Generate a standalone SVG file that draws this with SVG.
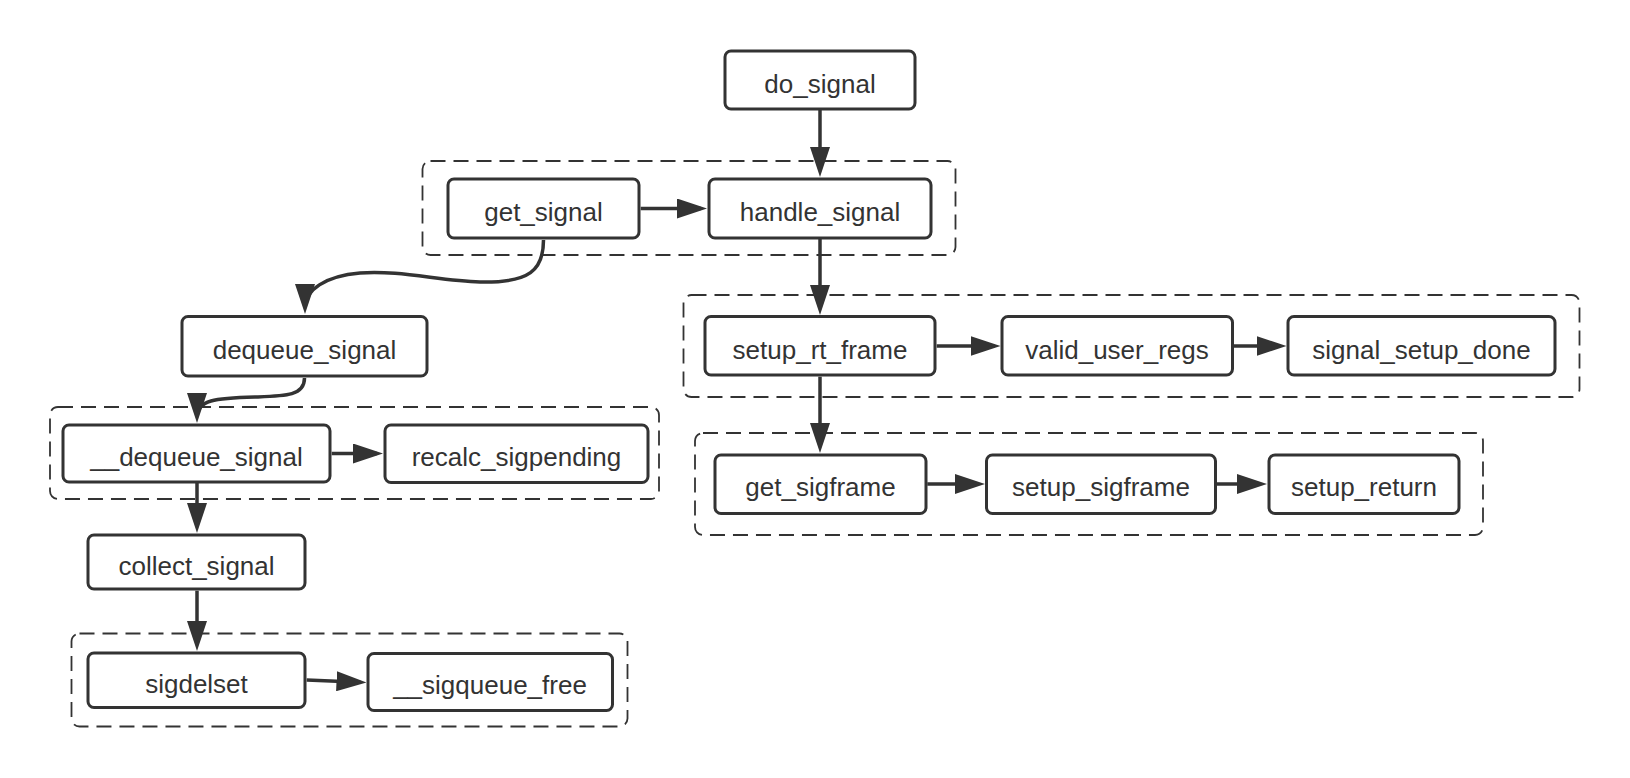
<svg xmlns="http://www.w3.org/2000/svg" width="1630" height="778" viewBox="0 0 1630 778">
<defs>
<style>
.node rect{fill:#ffffff;stroke:#333333;stroke-width:3;}
.node text{font-family:"Liberation Sans",Arial,sans-serif;font-size:26px;fill:#333333;text-anchor:middle;}
.grp{fill:none;stroke:#333333;stroke-width:1.8;stroke-dasharray:15 8;}
.edge{fill:none;stroke:#333333;stroke-width:3.5;marker-end:url(#arrow);}
</style>
<marker id="arrow" markerUnits="userSpaceOnUse" viewBox="0 0 30 20" markerWidth="30" markerHeight="20" refX="24" refY="10" orient="auto">
<path d="M0,0 L30,10 L0,20 z" fill="#333333"/>
</marker>
</defs>
<rect x="0" y="0" width="1630" height="778" fill="#ffffff"/>

<g id="groups">
<rect class="grp" x="422.5" y="161" width="533" height="94" rx="8"/>
<rect class="grp" x="50" y="407" width="609" height="92" rx="8"/>
<rect class="grp" x="683.5" y="295" width="896" height="102" rx="8"/>
<rect class="grp" x="71.5" y="633.5" width="556" height="93" rx="8"/>
<rect class="grp" x="695" y="433" width="788" height="102" rx="8"/>
</g>

<g id="connectors">
<path class="edge" d="M820,110 L820,171"/>
<path class="edge" d="M640.7,208.5 L701,208.5"/>
<path class="edge" d="M820,239 L820,309"/>
<path class="edge" d="M543.5,240 C543.5,270 530,283 480,282 C440,281 400,270 360,273 C325,276 305,290 305,308"/>
<path class="edge" d="M304.5,378 C304.5,396 285,396 255,397 C215,398 197,400 197,417"/>
<path class="edge" d="M331.7,453.5 L377,453.5"/>
<path class="edge" d="M197,483 L197,527"/>
<path class="edge" d="M197,590.7 L197,645"/>
<path class="edge" d="M306.7,680 L360.5,682.3"/>
<path class="edge" d="M936.7,346 L994.5,346"/>
<path class="edge" d="M1234,346 L1280.5,346"/>
<path class="edge" d="M820,376.7 L820,447"/>
<path class="edge" d="M927.3,484 L979,484"/>
<path class="edge" d="M1216.7,484 L1261,484"/>
</g>

<g id="do_signal" class="node"><rect x="725" y="51" width="190" height="58" rx="6"/><text x="820" y="92.5">do_signal</text></g>
<g id="get_signal" class="node"><rect x="448" y="179" width="191" height="59" rx="6"/><text x="543.5" y="220.5">get_signal</text></g>
<g id="handle_signal" class="node"><rect x="709" y="179" width="222" height="59" rx="6"/><text x="820" y="220.5">handle_signal</text></g>
<g id="dequeue_signal" class="node"><rect x="182" y="316.5" width="245" height="59.5" rx="6"/><text x="304.5" y="358.5">dequeue_signal</text></g>
<g id="__dequeue_signal" class="node"><rect x="63" y="425" width="267" height="57" rx="6"/><text x="196.5" y="466">__dequeue_signal</text></g>
<g id="recalc_sigpending" class="node"><rect x="385" y="425" width="263" height="57.5" rx="6"/><text x="516.5" y="466">recalc_sigpending</text></g>
<g id="collect_signal" class="node"><rect x="88" y="535" width="217" height="54" rx="6"/><text x="196.5" y="574.5">collect_signal</text></g>
<g id="sigdelset" class="node"><rect x="88" y="653" width="217" height="54.5" rx="6"/><text x="196.5" y="692.5">sigdelset</text></g>
<g id="__sigqueue_free" class="node"><rect x="368" y="653.5" width="244.5" height="57" rx="6"/><text x="490" y="694">__sigqueue_free</text></g>
<g id="setup_rt_frame" class="node"><rect x="705" y="316.5" width="230" height="58.5" rx="6"/><text x="820" y="358.5">setup_rt_frame</text></g>
<g id="valid_user_regs" class="node"><rect x="1002" y="316.5" width="230.5" height="58.5" rx="6"/><text x="1117" y="358.5">valid_user_regs</text></g>
<g id="signal_setup_done" class="node"><rect x="1288" y="316.5" width="267" height="58.5" rx="6"/><text x="1421.5" y="358.5">signal_setup_done</text></g>
<g id="get_sigframe" class="node"><rect x="715" y="455" width="211" height="58.5" rx="6"/><text x="820.5" y="496">get_sigframe</text></g>
<g id="setup_sigframe" class="node"><rect x="986.5" y="455" width="229" height="58.5" rx="6"/><text x="1101" y="496">setup_sigframe</text></g>
<g id="setup_return" class="node"><rect x="1269" y="455" width="190" height="58.5" rx="6"/><text x="1364" y="496">setup_return</text></g>
</svg>
